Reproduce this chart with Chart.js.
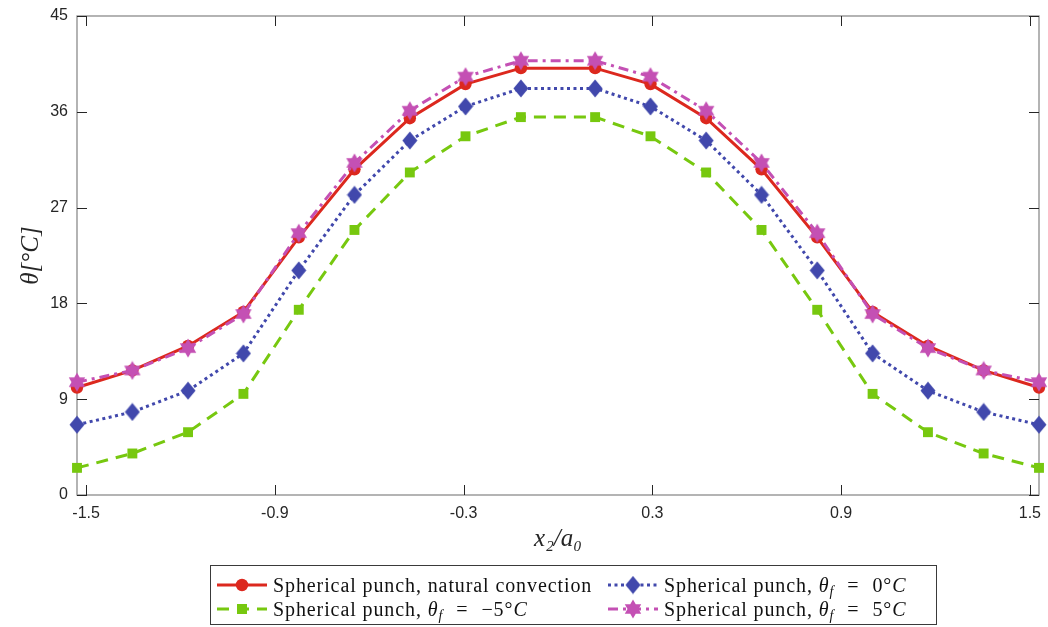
<!DOCTYPE html>
<html>
<head>
<meta charset="utf-8">
<script src="https://cdn.jsdelivr.net/npm/chart.js@4.4.1/dist/chart.umd.min.js"></script>
<style>
  body { margin: 0; background: #fff; }
  #wrap { position: relative; width: 1048px; height: 627px; }
  #c { position: absolute; left: 0; top: 0; }
  #legend { position: absolute; left: 210px; top: 565px; width: 727px; height: 60px;
            border: 1px solid #3a3a3a; box-sizing: border-box; background: #fff;
            font-family: "Liberation Serif", serif; font-size: 20px; letter-spacing: 0.9px; color: #111; }
  .item { position: absolute; height: 24px; line-height: 24px; display: flex; align-items: center; white-space: nowrap; }
  .item canvas { margin-right: 5px; }
  .item sub { font-size: 14px; line-height: 0; vertical-align: -4px; }
  .eq { margin: 0 13px; }
</style>
</head>
<body>
<div id="wrap">
  <canvas id="c" width="1048" height="560"></canvas>
  <div id="legend"></div>
</div>
<script>
// x positions of the samples (x2/a0)
const xPos = [-1.529, -1.353, -1.176, -1.0, -0.824, -0.647, -0.471, -0.294, -0.118,
              0.118, 0.294, 0.471, 0.647, 0.824, 1.0, 1.176, 1.353, 1.529];

// temperatures, degC
const natural = [10.1, 11.7, 14.0, 17.2, 24.2, 30.6, 35.4, 38.6, 40.1,
                 40.1, 38.6, 35.4, 30.6, 24.2, 17.2, 14.0, 11.7, 10.1];
const minus5  = [2.55, 3.9, 5.9, 9.5, 17.4, 24.9, 30.3, 33.7, 35.5,
                 35.5, 33.7, 30.3, 24.9, 17.4, 9.5, 5.9, 3.9, 2.55];
const zero    = [6.6, 7.8, 9.8, 13.3, 21.1, 28.2, 33.3, 36.5, 38.2,
                 38.2, 36.5, 33.3, 28.2, 21.1, 13.3, 9.8, 7.8, 6.6];
const plus5   = [10.6, 11.7, 13.8, 17.0, 24.6, 31.2, 36.1, 39.3, 40.8,
                 40.8, 39.3, 36.1, 31.2, 24.6, 17.0, 13.8, 11.7, 10.6];

const xTicks = [-1.5, -0.9, -0.3, 0.3, 0.9, 1.5];

const RED = '#dc281e', GREEN = '#77c80f', BLUE = '#4148ac', MAGENTA = '#c450b4';

// marker images
function diamond(color) {
  const c = document.createElement('canvas');
  c.width = 16; c.height = 19;
  const g = c.getContext('2d');
  g.fillStyle = color;
  g.beginPath();
  g.moveTo(8, 0.5); g.lineTo(15.5, 9.5); g.lineTo(8, 18.5); g.lineTo(0.5, 9.5);
  g.closePath(); g.fill();
  return c;
}
function hexagram(color) {
  const c = document.createElement('canvas');
  c.width = 20; c.height = 20;
  const g = c.getContext('2d');
  const R = 9.5, r = R / Math.sqrt(3);
  g.fillStyle = color;
  g.beginPath();
  for (let i = 0; i < 12; i++) {
    const a = -Math.PI / 2 + i * Math.PI / 6;
    const rr = i % 2 ? r : R;
    const px = 10 + rr * Math.cos(a), py = 10 + rr * Math.sin(a);
    i ? g.lineTo(px, py) : g.moveTo(px, py);
  }
  g.closePath(); g.fill();
  return c;
}
const diamondImg = diamond(BLUE);
const starImg = hexagram(MAGENTA);

const pts = arr => arr.map((v, i) => ({ x: xPos[i], y: v }));

const series = [
  { label: 'Spherical punch, natural convection', data: natural, color: RED, dash: [],
    pointStyle: 'circle', radius: 6.2, order: 4 },
  { label: 'Spherical punch, <i>θ<sub>f</sub></i><span class="eq">=</span>−5°<i>C</i>', data: minus5, color: GREEN, dash: [12, 8],
    pointStyle: 'rect', radius: 7, order: 3 },
  { label: 'Spherical punch, <i>θ<sub>f</sub></i><span class="eq">=</span>0°<i>C</i>', data: zero, color: BLUE, dash: [3, 3.5],
    pointStyle: diamondImg, radius: 8, order: 2 },
  { label: 'Spherical punch, <i>θ<sub>f</sub></i><span class="eq">=</span>5°<i>C</i>', data: plus5, color: MAGENTA, dash: [10, 5, 3, 5],
    pointStyle: starImg, radius: 9, order: 1 }
];

// axes box with inward ticks on all four sides
const boxPlugin = {
  id: 'box',
  beforeDatasetsDraw(chart) {
    const { ctx, chartArea: a, scales: { x, y } } = chart;
    ctx.save();
    ctx.strokeStyle = '#8c8c8c';
    ctx.lineWidth = 1.3;
    ctx.strokeRect(a.left, a.top, a.right - a.left, a.bottom - a.top);
    ctx.strokeStyle = '#262626';
    ctx.lineWidth = 1;
    ctx.beginPath();
    x.ticks.forEach(t => {
      const px = Math.round(x.getPixelForValue(t.value)) + 0.5;
      ctx.moveTo(px, a.bottom); ctx.lineTo(px, a.bottom - 10);
      ctx.moveTo(px, a.top); ctx.lineTo(px, a.top + 10);
    });
    y.ticks.forEach(t => {
      const py = Math.round(y.getPixelForValue(t.value)) + 0.5;
      ctx.moveTo(a.left, py); ctx.lineTo(a.left + 10, py);
      ctx.moveTo(a.right, py); ctx.lineTo(a.right - 10, py);
    });
    ctx.stroke();
    ctx.restore();
  }
};

new Chart(document.getElementById('c'), {
  type: 'line',
  data: {
    datasets: series.map(s => ({
      label: s.label,
      data: pts(s.data),
      borderColor: s.color,
      backgroundColor: s.color,
      borderWidth: 3,
      borderDash: s.dash,
      pointStyle: s.pointStyle,
      pointRadius: s.radius,
      pointBorderWidth: 0,
      pointBackgroundColor: s.color,
      tension: 0,
      clip: false,
      order: s.order
    }))
  },
  options: {
    responsive: false,
    animation: false,
    layout: { padding: { top: 16, right: 3, left: 0, bottom: 0 } },
    plugins: { legend: { display: false }, tooltip: { enabled: false } },
    scales: {
      x: {
        type: 'linear',
        min: -1.529, max: 1.529,
        afterBuildTicks: s => { s.ticks = xTicks.map(v => ({ value: v })); },
        afterFit: s => { s.height = 65; s.paddingLeft = 0; s.paddingRight = 0; },
        grid: { display: false, drawTicks: false },
        border: { display: false },
        ticks: {
          padding: 9,
          color: '#262626',
          font: { family: 'Liberation Sans', size: 16 },
          callback: v => v.toFixed(1)
        },
        title: {
          display: true,
          text: 'x₂/a₀',
          color: '#262626',
          font: { family: 'Liberation Serif', size: 25, style: 'italic' },
          padding: { top: 0, bottom: 6 }
        }
      },
      y: {
        min: 0, max: 45,
        afterFit: s => { s.width = 77; s.paddingTop = 0; s.paddingBottom = 0; },
        grid: { display: false, drawTicks: false },
        border: { display: false },
        ticks: {
          stepSize: 9,
          padding: 9,
          color: '#262626',
          font: { family: 'Liberation Sans', size: 16 }
        },
        title: {
          display: true,
          text: 'θ[°C]',
          color: '#262626',
          font: { family: 'Liberation Serif', size: 25, style: 'italic' },
          padding: { top: 16, bottom: 0 }
        }
      }
    }
  },
  plugins: [boxPlugin]
});

// legend below the axes, two columns
const legend = document.getElementById('legend');
const slots = [
  { left: 5, top: 7 },    // natural
  { left: 5, top: 31 },   // -5
  { left: 396, top: 7 },  // 0
  { left: 396, top: 31 }  // 5
];
series.forEach((s, i) => {
  const item = document.createElement('div');
  item.className = 'item';
  item.style.left = slots[i].left + 'px';
  item.style.top = slots[i].top + 'px';
  const sw = document.createElement('canvas');
  sw.width = 52; sw.height = 22;
  const g = sw.getContext('2d');
  g.strokeStyle = s.color; g.lineWidth = 3; g.setLineDash(s.dash);
  g.beginPath(); g.moveTo(1, 11); g.lineTo(51, 11); g.stroke();
  g.fillStyle = s.color;
  if (s.pointStyle === 'circle') {
    g.beginPath(); g.arc(26, 11, 6.2, 0, Math.PI * 2); g.fill();
  } else if (s.pointStyle === 'rect') {
    g.fillRect(26 - 5, 11 - 5, 10, 10);
  } else {
    const im = s.pointStyle;
    g.drawImage(im, 26 - im.width / 2, 11 - im.height / 2);
  }
  item.appendChild(sw);
  const t = document.createElement('span');
  t.innerHTML = s.label;
  item.appendChild(t);
  legend.appendChild(item);
});
</script>
</body>
</html>
